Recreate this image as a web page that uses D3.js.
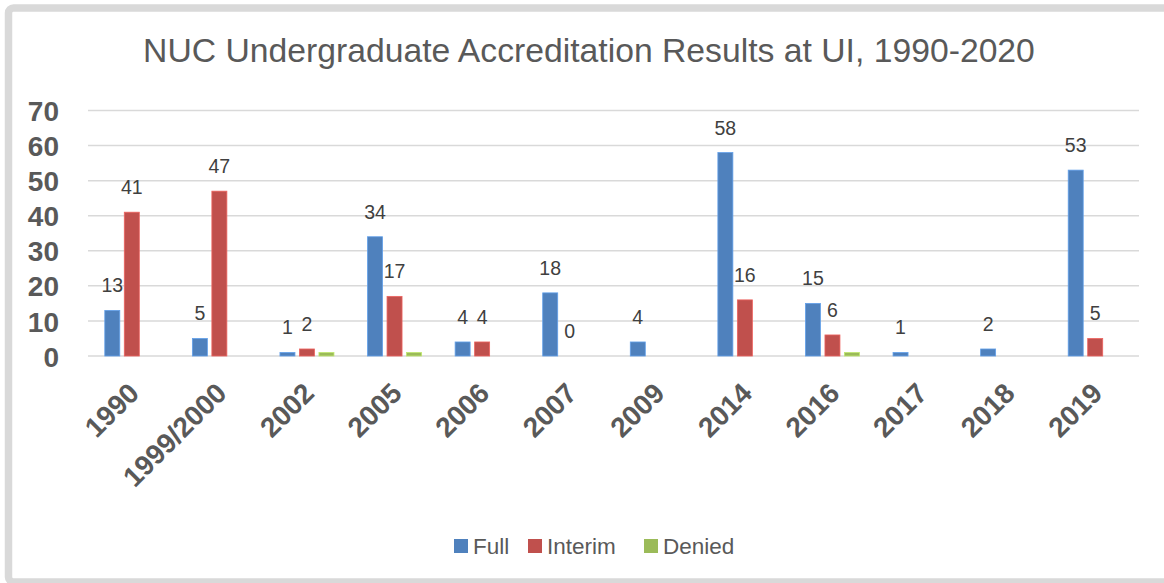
<!DOCTYPE html>
<html><head><meta charset="utf-8">
<script src="https://cdn.jsdelivr.net/npm/d3@7"></script>
<style>html,body{margin:0;padding:0;background:#fff;}svg{display:block;}</style>
</head><body>
<svg id="chart" width="1164" height="583"></svg>
<script>
const title = "NUC Undergraduate Accreditation Results at UI, 1990-2020";
const categories = ["1990","1999/2000","2002","2005","2006","2007","2009","2014","2016","2017","2018","2019"];
const fullValues    = [13, 5, 1, 34, 4, 18, 4, 58, 15, 1, 2, 53];
const interimValues = [41, 47, 2, 17, 4, 0, null, 16, 6, null, null, 5];
const deniedValues  = [null, null, 1, 1, null, null, null, null, 1, null, null, null];
const seriesNames = ["Full","Interim","Denied"];
const seriesColors = ["#4f81bd","#c0504d","#9bbb59"];
const showLabels = [true, true, false];
const yTicks = [0,10,20,30,40,50,60,70];

(function(){
const svg = d3.select("#chart");
const font = "'Liberation Sans', Arial, sans-serif";

// outer border
svg.append("rect").attr("x",8.5).attr("y",8).attr("width",1170).attr("height",574)
  .attr("rx",5).attr("fill","#fff").attr("stroke","#d9d9d9").attr("stroke-width",7.5);

const pLeft = 88, pRight = 1139, pTop = 110.5, pBottom = 356;
const x = d3.scaleBand().domain(categories).range([pLeft,pRight]).paddingInner(0).paddingOuter(0);
const y = d3.scaleLinear().domain([0,70]).range([pBottom, pTop]);

// title
const t = svg.append("text").attr("x",589).attr("y",62).attr("text-anchor","middle")
  .attr("font-family",font).attr("font-size",30).attr("fill","#595959").text(title);
const tw = t.node().getComputedTextLength();
t.attr("font-size", 30*892/tw);

// gridlines
svg.append("g").selectAll("line").data(yTicks).join("line")
  .attr("x1",pLeft).attr("x2",pRight).attr("y1",d=>y(d)).attr("y2",d=>y(d))
  .attr("stroke","#d9d9d9").attr("stroke-width",1.5);

// y axis
const yAxis = d3.axisLeft(y).tickValues(yTicks).tickSize(0).tickPadding(0);
const yg = svg.append("g").attr("transform","translate(59,0)").call(yAxis);
yg.select(".domain").remove();
yg.selectAll("text").attr("font-family",font).attr("font-size",28).attr("font-weight","bold")
  .attr("fill","#595959").attr("dy","0.36em");

// bars
const series = [fullValues, interimValues, deniedValues];
const barW = 15, barStep = 19.5;
series.forEach((vals, si) => {
  const g = svg.append("g");
  const data = categories.map((c,i)=>({c, v: vals[i]})).filter(d=>d.v!==null);
  g.selectAll("rect").data(data.filter(d=>d.v>0)).join("rect")
    .attr("x", d => x(d.c) + x.bandwidth()/2 - barStep - barW/2 + si*barStep)
    .attr("y", d => y(d.v))
    .attr("width", barW)
    .attr("height", d => y(0)-y(d.v))
    .attr("fill", seriesColors[si])
    .attr("stroke", d3.color(seriesColors[si]).brighter(0.6))
    .attr("stroke-width", 0.8);
  if (showLabels[si]) {
    g.selectAll("text").data(data).join("text")
      .attr("x", d => x(d.c) + x.bandwidth()/2 - barStep + si*barStep)
      .attr("y", d => y(d.v) - 18)
      .attr("text-anchor","middle")
      .attr("font-family",font).attr("font-size",19.5).attr("fill","#404040")
      .text(d=>d.v);
  }
});

// x axis labels
const xAxis = d3.axisBottom(x).tickSize(0).tickPadding(0);
const xg = svg.append("g").attr("transform",`translate(0,${pBottom})`).call(xAxis);
xg.select(".domain").remove();
xg.selectAll("text")
  .attr("font-family",font).attr("font-size",28).attr("font-weight","bold").attr("fill","#595959")
  .attr("text-anchor","end")
  .attr("transform","translate(-5,25) rotate(-45)")
  .attr("dy","0.7em").attr("dx","0");

// legend
const legendX = [454, 528, 644];
const lg = svg.append("g");
seriesNames.forEach((n,i)=>{
  lg.append("rect").attr("x",legendX[i]).attr("y",539).attr("width",14).attr("height",14).attr("fill",seriesColors[i]);
  lg.append("text").attr("x",legendX[i]+19).attr("y",553.5).attr("font-family",font).attr("font-size",22.5)
    .attr("fill","#595959").text(n);
});
})();
</script>
</body></html>
